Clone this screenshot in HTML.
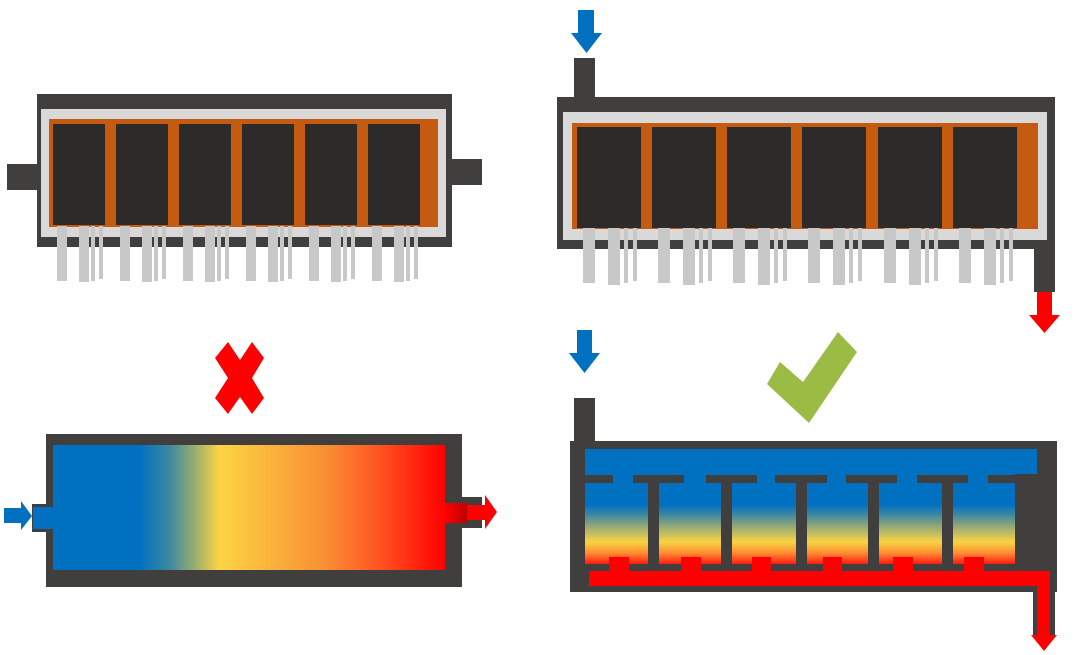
<!DOCTYPE html>
<html>
<head>
<meta charset="utf-8">
<style>
  html, body { margin: 0; padding: 0; background: #ffffff; }
  body { width: 1080px; height: 655px; overflow: hidden; }
  svg { display: block; }
</style>
</head>
<body>
<svg width="1080" height="655" viewBox="0 0 1080 655" xmlns="http://www.w3.org/2000/svg">
  <defs>
    <linearGradient id="hgrad" x1="0" y1="0" x2="1" y2="0">
      <stop offset="0" stop-color="#0070c0"/>
      <stop offset="0.22" stop-color="#0070c0"/>
      <stop offset="0.30" stop-color="#3f8a9c"/>
      <stop offset="0.36" stop-color="#97ad72"/>
      <stop offset="0.425" stop-color="#fcd443"/>
      <stop offset="0.55" stop-color="#fbb43c"/>
      <stop offset="0.70" stop-color="#f98d33"/>
      <stop offset="0.83" stop-color="#ff5522"/>
      <stop offset="1" stop-color="#ff0000"/>
    </linearGradient>
    <linearGradient id="vgrad" x1="0" y1="0" x2="0" y2="1">
      <stop offset="0" stop-color="#0070c0"/>
      <stop offset="0.48" stop-color="#0070c0"/>
      <stop offset="0.56" stop-color="#3a86a4"/>
      <stop offset="0.66" stop-color="#8fa67a"/>
      <stop offset="0.80" stop-color="#f8d444"/>
      <stop offset="0.90" stop-color="#ff8a30"/>
      <stop offset="1" stop-color="#ff1010"/>
    </linearGradient>
    <linearGradient id="outred" x1="0" y1="0" x2="1" y2="0">
      <stop offset="0" stop-color="#ff0000"/>
      <stop offset="0.5" stop-color="#e00000"/>
      <stop offset="1" stop-color="#b80000"/>
    </linearGradient>
  </defs>

  <!-- ================= TOP LEFT ================= -->
  <rect x="7" y="164" width="31" height="26" fill="#403f3d"/>
  <rect x="451" y="159" width="31" height="26" fill="#403f3d"/>
  <rect x="37" y="94" width="415" height="153" fill="#403f3d"/>
  <rect x="41" y="109" width="405" height="128" fill="#d9d9d9"/>
  <rect x="49" y="119" width="389" height="108" fill="#c55a11"/>
  <g fill="#2c2b2a">
    <rect x="53" y="124" width="52" height="101"/>
    <rect x="116" y="124" width="52" height="101"/>
    <rect x="179" y="124" width="52" height="101"/>
    <rect x="242" y="124" width="52" height="101"/>
    <rect x="305" y="124" width="52" height="101"/>
    <rect x="368" y="124" width="52" height="101"/>
  </g>
  <g fill="#c8c8c8">
    <g transform="translate(53,0)">
      <rect x="4" y="226" width="10" height="55"/><rect x="26" y="226" width="10" height="56"/><rect x="38" y="226" width="4" height="55"/><rect x="46" y="226" width="4" height="53"/>
    </g>
    <g transform="translate(116,0)">
      <rect x="4" y="226" width="10" height="55"/><rect x="26" y="226" width="10" height="56"/><rect x="38" y="226" width="4" height="55"/><rect x="46" y="226" width="4" height="53"/>
    </g>
    <g transform="translate(179,0)">
      <rect x="4" y="226" width="10" height="55"/><rect x="26" y="226" width="10" height="56"/><rect x="38" y="226" width="4" height="55"/><rect x="46" y="226" width="4" height="53"/>
    </g>
    <g transform="translate(242,0)">
      <rect x="4" y="226" width="10" height="55"/><rect x="26" y="226" width="10" height="56"/><rect x="38" y="226" width="4" height="55"/><rect x="46" y="226" width="4" height="53"/>
    </g>
    <g transform="translate(305,0)">
      <rect x="4" y="226" width="10" height="55"/><rect x="26" y="226" width="10" height="56"/><rect x="38" y="226" width="4" height="55"/><rect x="46" y="226" width="4" height="53"/>
    </g>
    <g transform="translate(368,0)">
      <rect x="4" y="226" width="10" height="55"/><rect x="26" y="226" width="10" height="56"/><rect x="38" y="226" width="4" height="55"/><rect x="46" y="226" width="4" height="53"/>
    </g>
  </g>

  <!-- ================= TOP RIGHT ================= -->
  <rect x="578" y="10" width="16" height="24" fill="#0070c0"/>
  <polygon points="571,33 602,33 586.5,53" fill="#0070c0"/>
  <rect x="574" y="58" width="21" height="41" fill="#403f3d"/>
  <rect x="557" y="97" width="498" height="152" fill="#403f3d"/>
  <rect x="1034" y="240" width="21" height="52" fill="#403f3d"/>
  <rect x="563" y="112" width="484" height="128" fill="#d9d9d9"/>
  <rect x="572" y="123" width="466" height="106" fill="#c55a11"/>
  <g fill="#2c2b2a">
    <rect x="577" y="127" width="64" height="101"/>
    <rect x="652" y="127" width="64" height="101"/>
    <rect x="727" y="127" width="64" height="101"/>
    <rect x="802" y="127" width="64" height="101"/>
    <rect x="878" y="127" width="64" height="101"/>
    <rect x="953" y="127" width="64" height="101"/>
  </g>
  <g fill="#c8c8c8">
    <g transform="translate(577,0)">
      <rect x="6" y="228" width="12" height="55"/><rect x="31" y="228" width="12" height="57"/><rect x="47" y="228" width="4" height="55"/><rect x="56" y="228" width="4" height="53"/>
    </g>
    <g transform="translate(652,0)">
      <rect x="6" y="228" width="12" height="55"/><rect x="31" y="228" width="12" height="57"/><rect x="47" y="228" width="4" height="55"/><rect x="56" y="228" width="4" height="53"/>
    </g>
    <g transform="translate(727,0)">
      <rect x="6" y="228" width="12" height="55"/><rect x="31" y="228" width="12" height="57"/><rect x="47" y="228" width="4" height="55"/><rect x="56" y="228" width="4" height="53"/>
    </g>
    <g transform="translate(802,0)">
      <rect x="6" y="228" width="12" height="55"/><rect x="31" y="228" width="12" height="57"/><rect x="47" y="228" width="4" height="55"/><rect x="56" y="228" width="4" height="53"/>
    </g>
    <g transform="translate(878,0)">
      <rect x="6" y="228" width="12" height="55"/><rect x="31" y="228" width="12" height="57"/><rect x="47" y="228" width="4" height="55"/><rect x="56" y="228" width="4" height="53"/>
    </g>
    <g transform="translate(953,0)">
      <rect x="6" y="228" width="12" height="55"/><rect x="31" y="228" width="12" height="57"/><rect x="47" y="228" width="4" height="55"/><rect x="56" y="228" width="4" height="53"/>
    </g>
  </g>
  <rect x="1037" y="292" width="15" height="24" fill="#ff0000"/>
  <polygon points="1029,315 1060,315 1044.5,333" fill="#ff0000"/>

  <!-- ================= BOTTOM LEFT ================= -->
  <polygon points="228,342 240,360 252,342 264,358 252,378 264,398 252,414 240,397 228,414 215,398 228,378 215,358" fill="#ff0000"/>
  <rect x="32" y="504" width="15" height="28" fill="#403f3d"/>
  <rect x="461" y="497" width="21" height="31" fill="#403f3d"/>
  <rect x="46" y="434" width="416" height="153" fill="#403f3d"/>
  <rect x="53" y="445" width="392" height="125" fill="url(#hgrad)"/>
  <rect x="33" y="507" width="21" height="22" fill="#0070c0"/>
  <rect x="444" y="503" width="24" height="20" fill="url(#outred)"/>
  <rect x="4" y="508" width="18" height="15" fill="#0070c0"/>
  <polygon points="21,501 21,530 32,516" fill="#0070c0"/>
  <rect x="467" y="505" width="19" height="15" fill="#ff0000"/>
  <polygon points="485,495 485,529 497,512" fill="#ff0000"/>

  <!-- ================= BOTTOM RIGHT ================= -->
  <rect x="577" y="330" width="15" height="24" fill="#0070c0"/>
  <polygon points="569,353 600,353 584.5,373" fill="#0070c0"/>
  <polygon points="767,384 780,362 803,382 838,332 857,352 809,423" fill="#9bbb45"/>

  <rect x="574" y="398" width="21" height="44" fill="#403f3d"/>
  <rect x="570" y="441" width="487" height="151" fill="#403f3d"/>
  <rect x="1033" y="586" width="22" height="50" fill="#403f3d"/>
  <rect x="585" y="449" width="430" height="116" fill="url(#vgrad)"/>
  <rect x="1010" y="449" width="27" height="25" fill="#0070c0"/>
  <g fill="#403f3d">
    <!-- top bars -->
    <rect x="585" y="475" width="28" height="8"/>
    <rect x="633" y="475" width="51" height="8"/>
    <rect x="706" y="475" width="51" height="8"/>
    <rect x="775" y="475" width="52" height="8"/>
    <rect x="846" y="475" width="51" height="8"/>
    <rect x="917" y="475" width="51" height="8"/>
    <rect x="988" y="475" width="27" height="8"/>
    <!-- stems -->
    <rect x="648" y="475" width="11" height="97"/>
    <rect x="721" y="475" width="11" height="97"/>
    <rect x="796" y="475" width="11" height="97"/>
    <rect x="868" y="475" width="11" height="97"/>
    <rect x="942" y="475" width="11" height="97"/>
    <!-- bottom bars -->
    <rect x="585" y="564" width="24" height="8"/>
    <rect x="629" y="564" width="52" height="8"/>
    <rect x="701" y="564" width="51" height="8"/>
    <rect x="771" y="564" width="52" height="8"/>
    <rect x="842" y="564" width="51" height="8"/>
    <rect x="913" y="564" width="51" height="8"/>
    <rect x="984" y="564" width="31" height="8"/>
  </g>
  <g fill="#ff0000">
    <rect x="609" y="557" width="20" height="15"/>
    <rect x="681" y="557" width="20" height="15"/>
    <rect x="752" y="557" width="19" height="15"/>
    <rect x="823" y="557" width="19" height="15"/>
    <rect x="893" y="557" width="20" height="15"/>
    <rect x="964" y="557" width="20" height="15"/>
    <rect x="589" y="571" width="461" height="15"/>
    <rect x="1037" y="571" width="13" height="65"/>
    <polygon points="1031,635 1057,635 1044,651"/>
  </g>
</svg>
</body>
</html>
